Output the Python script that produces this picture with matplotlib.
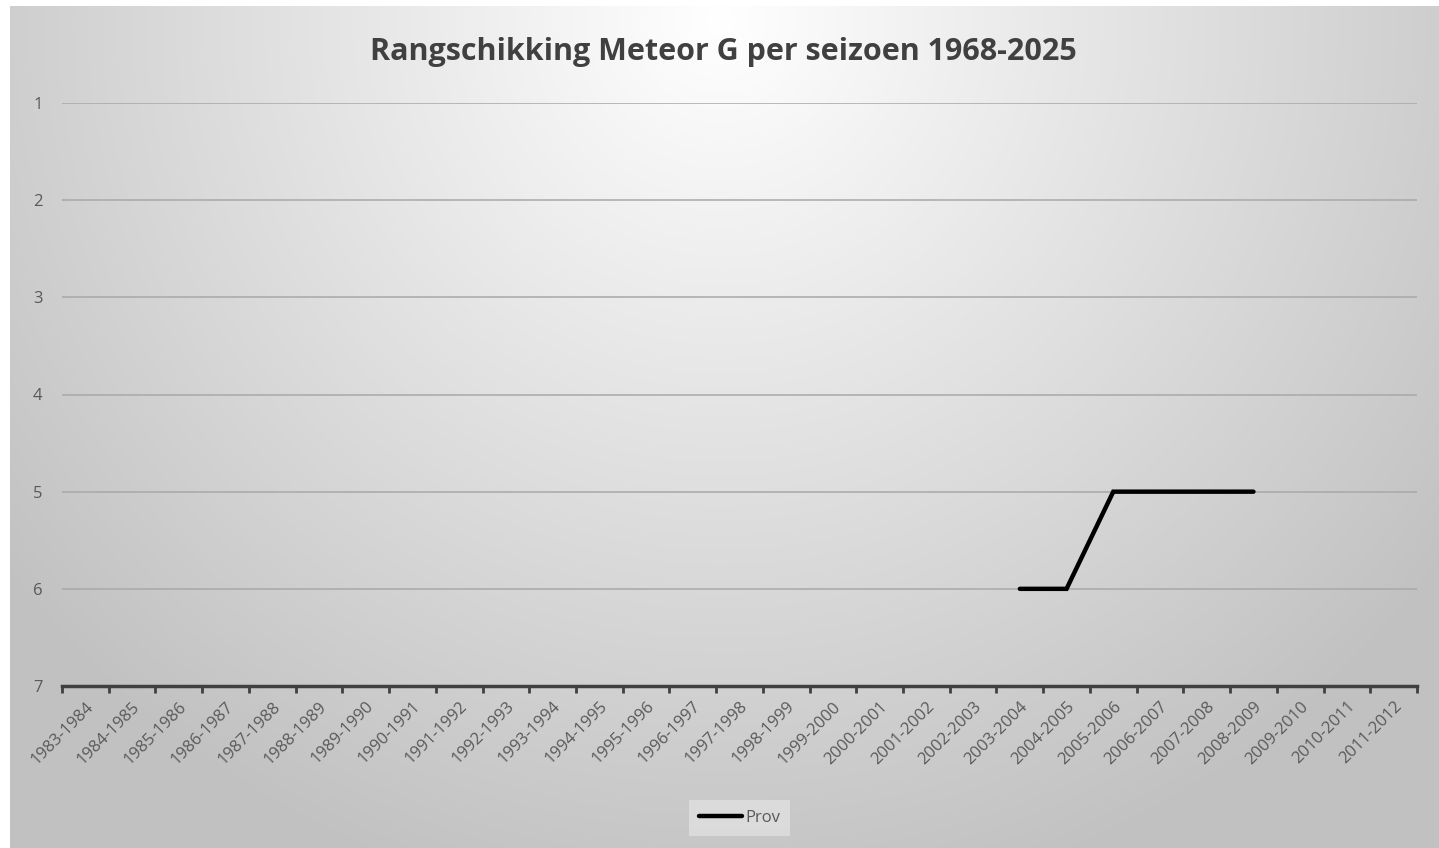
import numpy as np
import matplotlib.pyplot as plt

# seizoenen op de x-as
seizoenen = ['%d-%d' % (j, j + 1) for j in range(1983, 2012)]
# rangschikking (alleen gespeelde seizoenen)
prov_seizoenen = ['2003-2004', '2004-2005', '2005-2006', '2006-2007', '2007-2008', '2008-2009']
prov_rang = [6, 6, 5, 5, 5, 5]
y_ticks = [1, 2, 3, 4, 5, 6, 7]

plt.rcParams['font.family'] = ['Open Sans', 'DejaVu Sans']

fig = plt.figure(figsize=(14.39, 8.48), dpi=100)

# achtergrond met radiaal verloop
bg = fig.add_axes([0, 0, 1, 1])
h, w = 848, 1439
yy, xx = np.mgrid[0:h, 0:w]
r = np.sqrt(((xx - 720) / 900.0) ** 2 + ((yy - 20) / 900.0) ** 2)
r = np.clip(r, 0, 1)
shade = 1.0 - 0.24 * r
img = np.dstack([shade, shade, shade])
img[:, :10] = 1.0
img[:6, :] = 1.0
bg.imshow(img, aspect='auto', extent=[0, w, h, 0])
bg.axis('off')

x0, x1 = 62 / w, 1417 / w
y_top, y_bot = 103 / h, 686 / h
ax = fig.add_axes([x0, 1 - y_bot, x1 - x0, y_bot - y_top])
ax.patch.set_alpha(0)

n = len(seizoenen)
xs = [seizoenen.index(s) + 0.5 for s in prov_seizoenen]
ax.plot(xs, prov_rang, color='black', lw=3.2, solid_capstyle='round',
        solid_joinstyle='miter', label='Prov', zorder=3)

ax.set_xlim(0, n)
ax.set_ylim(7, 1)
ax.set_yticks(y_ticks)
ax.set_yticklabels([str(v) for v in y_ticks])
for v in y_ticks[:-1]:
    ax.axhline(v, color='#a8a8a8', lw=1.1, zorder=1)

ax.set_xticks(np.arange(n + 1))
ax.set_xticklabels([])
ax.set_xticks(np.arange(n) + 0.5, minor=True)
ax.set_xticklabels(seizoenen, minor=True, rotation=45, ha='right', va='top',
                   rotation_mode='anchor', fontsize=12, color='#595959')
ax.tick_params(axis='x', which='minor', length=0, pad=9)
ax.tick_params(axis='x', which='major', length=5, width=2, color='#404040', direction='out')
ax.tick_params(axis='y', length=0, labelsize=12, labelcolor='#595959', pad=14)

for s in ['top', 'right', 'left']:
    ax.spines[s].set_visible(False)
ax.spines['bottom'].set_color('#404040')
ax.spines['bottom'].set_linewidth(2.5)

fig.text(723 / w, 1 - 52 / h, 'Rangschikking Meteor G per seizoen 1968-2025',
         ha='center', va='center', fontsize=22, fontweight='bold', color='#404040')

leg = ax.legend(loc='center', bbox_to_anchor=(0.5, -(818 - 686) / (686 - 103)),
                frameon=True, fontsize=12, handlelength=2.6, handletextpad=0.2,
                borderpad=0.6, fancybox=False)
leg.get_frame().set_facecolor('white')
leg.get_frame().set_alpha(0.35)
leg.get_frame().set_edgecolor('none')
for t in leg.get_texts():
    t.set_color('#595959')

fig.savefig('out.png', dpi=100)
